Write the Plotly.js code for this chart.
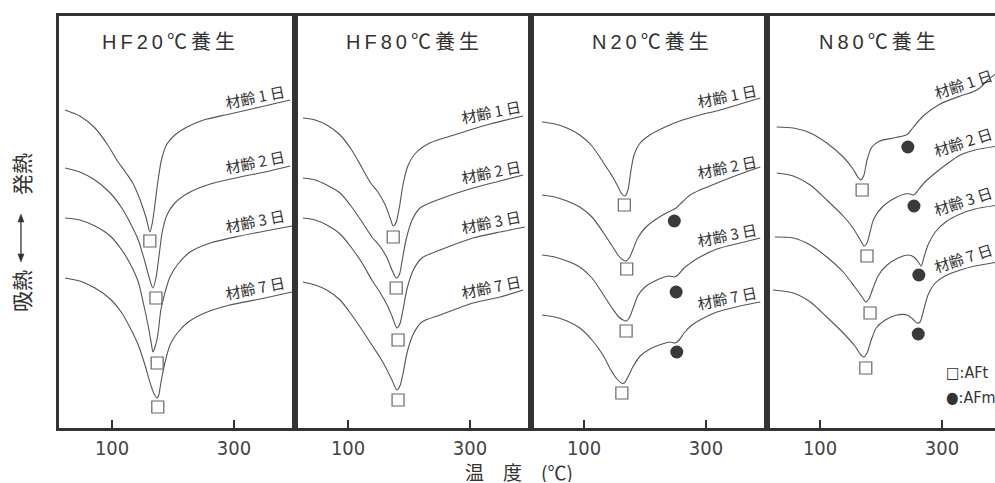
<!DOCTYPE html>
<html>
<head>
<meta charset="utf-8">
<script src="https://cdn.plot.ly/plotly-3.0.1.min.js"></script>
<style>
  html, body { margin: 0; padding: 0; background: #fff; overflow: hidden; }
  #chart { width: 1005px; height: 483px; }
</style>
</head>
<body>
<div id="chart"></div>
<script>
// DTA curves (arbitrary signal units) for four curing conditions, four ages each.
const panelTitles = ['HF20℃養生', 'HF80℃養生', 'N20℃養生', 'N80℃養生'];
const ageLabels = ['材齢 1 日', '材齢 2 日', '材齢 3 日', '材齢 7 日'];
const tickTemps = [100, 300];
const tickText = ['100', '300'];

// HF 20°C curing
const hf20Temps = [
  [23,47,72,93,110,123,134,146,156,162,166,170,175,181,190,203,220,250,293,343,392],
  [23,47,72,97,116,129,143,154,162,167,172,177,182,190,203,225,261,310,351,392],
  [23,47,72,97,116,129,143,152,159,164,167,170,175,180,187,195,208,228,261,310,351,395],
  [23,47,72,97,116,129,143,154,162,169,174,177,180,187,195,207,225,252,293,343,395]
];
const hf20Signals = [
  [318,312,300,283,266,255,245,228,210,196,205,222,246,268,284,293,300,308,314,321,328],
  [260,256,248,235,220,206,188,166,148,140,150,172,195,213,225,235,244,251,256,262],
  [210,208,202,192,178,165,146,123,103,86,76,80,93,118,136,151,164,176,185,192,197,202],
  [150,147,140,129,115,101,83,63,46,34,30,34,45,66,83,95,106,115,123,129,136]
];
const hf20AFtTemps = [162,172,174,175];
const hf20AFtSignals = [187,130,65,21];

// HF 80°C curing
const hf80Temps = [
  [26,46,65,87,106,123,136,149,161,169,174,179,184,190,198,211,234,279,333,387],
  [26,46,65,87,106,123,139,152,164,172,179,184,188,195,205,218,251,305,349,387],
  [26,46,65,87,106,123,139,152,164,172,180,185,190,197,207,221,251,305,349,390],
  [26,46,65,87,106,123,139,152,164,172,180,185,190,197,207,221,251,305,349,387]
];
const hf80Signals = [
  [310,308,303,293,278,260,246,236,223,210,202,206,220,243,262,275,285,294,304,312],
  [250,248,243,235,221,206,191,182,170,158,150,153,165,188,208,220,229,240,247,253],
  [210,208,203,194,180,165,148,136,123,112,100,104,118,140,158,170,178,190,196,201],
  [146,143,138,128,113,98,83,71,58,48,38,42,54,76,94,106,113,125,131,138]
];
const hf80AFtTemps = [174,179,182,182];
const hf80AFtSignals = [191,140,88,28];

// N 20°C curing
const n20Temps = [
  [31,52,72,93,113,131,146,156,162,167,172,177,182,192,208,233,257,290,323,356,389],
  [31,52,72,93,113,131,146,157,164,169,174,180,188,200,216,238,251,261,274,290,318,356,389],
  [31,52,72,93,113,131,146,157,164,169,174,180,188,200,216,238,248,254,264,277,290,318,356,389],
  [31,52,72,93,113,131,144,154,161,166,172,180,192,208,228,241,249,256,264,277,290,318,356,389]
];
const n20Signals = [
  [306,304,300,293,282,266,252,241,234,232,238,258,273,285,293,301,307,313,318,324,330],
  [233,231,227,221,211,196,182,172,168,167,170,178,190,200,208,216,220,226,233,238,245,254,261],
  [173,171,167,161,150,134,120,111,108,107,110,119,132,141,147,152,151,153,160,166,171,179,185,190],
  [113,111,107,100,88,73,58,49,45,45,51,61,72,79,84,86,85,88,95,103,108,116,122,126]
];
const n20AFtTemps = [166,170,169,162];
const n20AFtSignals = [223,159,97,35];
const n20AFmTemps = [248,251,252];
const n20AFmSignals = [207,136,76];

// N 80°C curing
const n80Temps = [
  [29,56,84,111,138,154,162,167,172,177,185,198,220,236,244,252,269,297,330,350,362,375,392],
  [29,56,84,111,138,154,166,172,177,182,188,202,223,239,248,254,261,272,289,308,330,354,392],
  [26,56,84,111,138,157,169,175,180,187,195,210,228,244,254,261,266,270,277,289,308,330,354,392],
  [23,56,84,111,138,157,167,172,177,184,192,207,226,243,252,259,264,269,277,289,305,330,354,392]
];
const n80Signals = [
  [301,300,295,285,271,259,251,248,253,268,281,287,290,292,294,300,312,324,332,336,340,348,356],
  [255,252,243,228,212,200,188,182,185,196,209,221,230,234,234,233,238,246,255,264,273,278,282],
  [191,190,183,171,156,141,131,126,129,140,152,163,170,173,171,166,162,170,183,196,207,214,219,223],
  [138,135,126,111,95,82,73,71,75,88,100,108,113,113,109,105,106,116,133,145,152,158,162,166]
];
const n80AFtTemps = [169,177,182,175];
const n80AFtSignals = [238,172,115,60];
const n80AFmTemps = [244,254,262,261];
const n80AFmSignals = [281,222,153,94];

const panels = [
  { temps: hf20Temps, sigs: hf20Signals, aftT: hf20AFtTemps, aftS: hf20AFtSignals, afmT: [], afmS: [] },
  { temps: hf80Temps, sigs: hf80Signals, aftT: hf80AFtTemps, aftS: hf80AFtSignals, afmT: [], afmS: [] },
  { temps: n20Temps,  sigs: n20Signals,  aftT: n20AFtTemps,  aftS: n20AFtSignals,  afmT: n20AFmTemps, afmS: n20AFmSignals },
  { temps: n80Temps,  sigs: n80Signals,  aftT: n80AFtTemps,  aftS: n80AFtSignals,  afmT: n80AFmTemps, afmS: n80AFmSignals }
];

// ---- styling ----
const INK = '#333';
const CURVE = '#555';
const JP = '"Noto Sans CJK JP", sans-serif';
const LATIN = '"Liberation Sans", "Noto Sans CJK JP", sans-serif';
const NARROW = '"Liberation Sans Narrow", "DejaVu Sans Condensed", "Liberation Sans", sans-serif';
const LABEL_T = 335;
const titleX = [0.462, 0.496, 0.508, 0.47];
const labelAngle = [-11, -11, -11, -18];

function interp(xs, ys, x) {
  for (let i = 1; i < xs.length; i++) {
    if (x <= xs[i]) {
      const t = (x - xs[i - 1]) / (xs[i] - xs[i - 1]);
      return ys[i - 1] + t * (ys[i] - ys[i - 1]);
    }
  }
  return ys[ys.length - 1];
}

function spaced(s) { return Array.from(s).join('\u2009'); }

const traces = [];
const annotations = [];
const shapes = [];
const layout = {
  width: 1005, height: 483,
  margin: { l: 59, r: 2, t: 16, b: 55 },
  paper_bgcolor: '#fff', plot_bgcolor: '#fff',
  showlegend: false,
  font: { family: LATIN, color: INK }
};

panels.forEach((p, i) => {
  const sfx = i === 0 ? '' : String(i + 1);
  const xa = 'x' + sfx, ya = 'y' + sfx;
  layout['xaxis' + sfx] = {
    domain: [i * 0.25, (i + 1) * 0.25], anchor: ya,
    range: [13, 400], showgrid: false, zeroline: false,
    showline: true, mirror: true, linewidth: 3, linecolor: INK,
    ticks: 'inside', ticklen: 8, tickwidth: 2.5, tickcolor: INK,
    tickmode: 'array', tickvals: tickTemps, ticktext: tickText,
    tickfont: { family: NARROW, size: 20, color: '#444' }
  };
  layout['yaxis' + sfx] = {
    domain: [0, 1], anchor: xa, range: [0, 412],
    showgrid: false, zeroline: false, showticklabels: false, ticks: '',
    showline: true, mirror: true, linewidth: 3, linecolor: INK
  };

  p.temps.forEach((T, c) => {
    traces.push({
      type: 'scatter', mode: 'lines', xaxis: xa, yaxis: ya,
      x: T, y: p.sigs[c],
      line: { color: CURVE, width: 1.1, shape: 'spline', smoothing: 0.7 },
      hoverinfo: 'skip'
    });
    annotations.push({
      xref: xa, yref: ya, x: LABEL_T, y: interp(T, p.sigs[c], LABEL_T),
      yshift: 12, text: ageLabels[c], showarrow: false, textangle: labelAngle[i],
      font: { family: JP, size: 15, color: INK }
    });
  });

  traces.push({
    type: 'scatter', mode: 'markers', xaxis: xa, yaxis: ya, name: 'AFt',
    x: p.aftT, y: p.aftS,
    marker: { symbol: 'square-open', size: 12, color: '#666', line: { width: 1.2, color: '#666' } }
  });
  if (p.afmT.length) {
    traces.push({
      type: 'scatter', mode: 'markers', xaxis: xa, yaxis: ya, name: 'AFm',
      x: p.afmT, y: p.afmS,
      marker: { symbol: 'circle', size: 13, color: '#3a3a3a' }
    });
  }

  annotations.push({
    xref: xa + ' domain', yref: ya + ' domain', x: titleX[i], y: 0.937,
    xanchor: 'center', yanchor: 'middle', showarrow: false,
    text: spaced(panelTitles[i]), font: { family: LATIN, size: 20, color: INK }
  });
});

// marker key (bottom right of the last panel)
annotations.push(
  { xref: 'x4 domain', yref: 'y4 domain', x: 0.752, y: 0.134, xanchor: 'left', yanchor: 'middle',
    showarrow: false, text: '□:AFt', font: { family: NARROW, size: 16, color: INK } },
  { xref: 'x4 domain', yref: 'y4 domain', x: 0.752, y: 0.073, xanchor: 'left', yanchor: 'middle',
    showarrow: false, text: '●:AFm', font: { family: NARROW, size: 16, color: INK } }
);

// vertical axis caption: 吸熱 (bottom) ⟷ 発熱 (top)
const CAP_X = -0.0403;
annotations.push(
  { xref: 'paper', yref: 'paper', x: CAP_X, y: 0.3325, xanchor: 'center', yanchor: 'middle',
    showarrow: false, textangle: -90, text: '吸熱', font: { family: JP, size: 21, color: INK } },
  { xref: 'paper', yref: 'paper', x: CAP_X, y: 0.6165, xanchor: 'center', yanchor: 'middle',
    showarrow: false, textangle: -90, text: '発熱', font: { family: JP, size: 21, color: INK } }
);
// thin double-headed arrow between the two words
const ARROW_TOP = 0.5194, ARROW_BOT = 0.4029, HEAD_LEN = 0.0194, HEAD_HALF = 0.0032;
shapes.push(
  { type: 'line', xref: 'paper', yref: 'paper', x0: CAP_X, x1: CAP_X,
    y0: ARROW_BOT + HEAD_LEN * 0.5, y1: ARROW_TOP - HEAD_LEN * 0.5, line: { color: INK, width: 1.3 } },
  { type: 'path', xref: 'paper', yref: 'paper', fillcolor: INK, line: { color: INK, width: 0.5 },
    path: `M ${CAP_X - HEAD_HALF} ${ARROW_TOP - HEAD_LEN} L ${CAP_X} ${ARROW_TOP} L ${CAP_X + HEAD_HALF} ${ARROW_TOP - HEAD_LEN} Z` },
  { type: 'path', xref: 'paper', yref: 'paper', fillcolor: INK, line: { color: INK, width: 0.5 },
    path: `M ${CAP_X - HEAD_HALF} ${ARROW_BOT + HEAD_LEN} L ${CAP_X} ${ARROW_BOT} L ${CAP_X + HEAD_HALF} ${ARROW_BOT + HEAD_LEN} Z` }
);

// horizontal axis caption
annotations.push(
  { xref: 'paper', yref: 'paper', x: 0.487, y: -0.1044, xanchor: 'center', yanchor: 'middle',
    showarrow: false, height: 22, text: '温\u3000度\u3000(℃)',
    font: { family: JP, size: 19, color: INK } }
);

layout.annotations = annotations;
layout.shapes = shapes;

Plotly.newPlot('chart', traces, layout, { staticPlot: true, displayModeBar: false });
</script>
</body>
</html>
